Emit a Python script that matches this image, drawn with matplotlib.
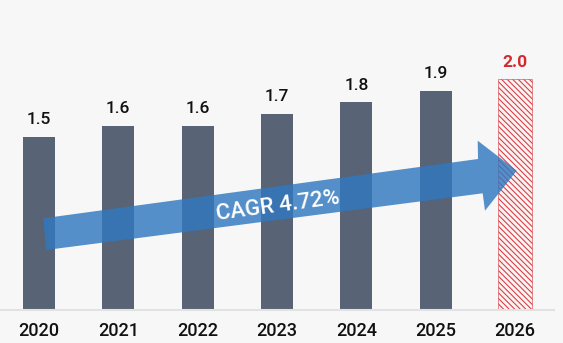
import matplotlib
matplotlib.use("Agg")
import matplotlib.pyplot as plt
from matplotlib.patches import Polygon

years = ["2020", "2021", "2022", "2023", "2024", "2025", "2026"]
values = [1.5, 1.6, 1.6, 1.7, 1.8, 1.9, 2.0]
value_labels = ["1.5", "1.6", "1.6", "1.7", "1.8", "1.9", "2.0"]
cagr_text = "CAGR 4.72%"

W, H = 563, 343
bg = "#f7f7f7"
bar_color = "#586375"
red = "#d42a2f"

plt.rcParams['font.family'] = ['Roboto', 'DejaVu Sans']
plt.rcParams['hatch.linewidth'] = 0.75
fig = plt.figure(figsize=(W / 100, H / 100), dpi=100, facecolor=bg)
ax = fig.add_axes([0, 33 / H, 554 / W, 1 - 33 / H])
ax.set_facecolor(bg)

x = list(range(len(years)))
n = len(years)
for i in range(n):
    if i < n - 1:
        ax.bar(x[i], values[i], width=0.405, color=bar_color, zorder=2)
    else:
        ax.bar(x[i], values[i], width=0.42, facecolor="#fbf3f3", edgecolor="#d6393f",
               hatch="\\" * 6, linewidth=0.4, zorder=2)

for i in range(n):
    last = i == n - 1
    ax.annotate(value_labels[i], (x[i], values[i]), xytext=(0, 7), textcoords="offset points",
                ha="center", va="bottom", fontsize=12.5,
                fontweight="bold" if last else "medium",
                color=red if last else "#111111", zorder=5)

ax.set_xlim(-0.49, 6.49)
ax.set_ylim(0, 310 / 115.3)
ax.set_xticks(x)
ax.set_xticklabels(years, fontsize=13, fontweight="medium", color="#111111")
ax.tick_params(axis="x", length=0, pad=9)
ax.set_yticks([])
for s in ["top", "right", "left"]:
    ax.spines[s].set_visible(False)
ax.spines["bottom"].set_color("#e2e2e2")
ax.spines["bottom"].set_linewidth(1.5)

# CAGR arrow (annotation) in pixel coordinates
pts = [(43.3, 218.3), (478, 159), (477.7, 140.7), (516.7, 170.7),
       (485, 210.7), (482.7, 193.3), (46, 250)]
pts_fig = [(px / W, 1 - py / H) for px, py in pts]
arrow = Polygon(pts_fig, closed=True, transform=fig.transFigure,
                facecolor=(0.19, 0.47, 0.75), alpha=0.82, edgecolor="none", zorder=10)
fig.patches.append(arrow)
fig.text(278 / W, 1 - 206 / H, cagr_text, ha="center", va="center", rotation=7.6,
         fontsize=16, fontweight="medium", color="white", zorder=11)

fig.savefig("out.png", dpi=100, facecolor=bg)
